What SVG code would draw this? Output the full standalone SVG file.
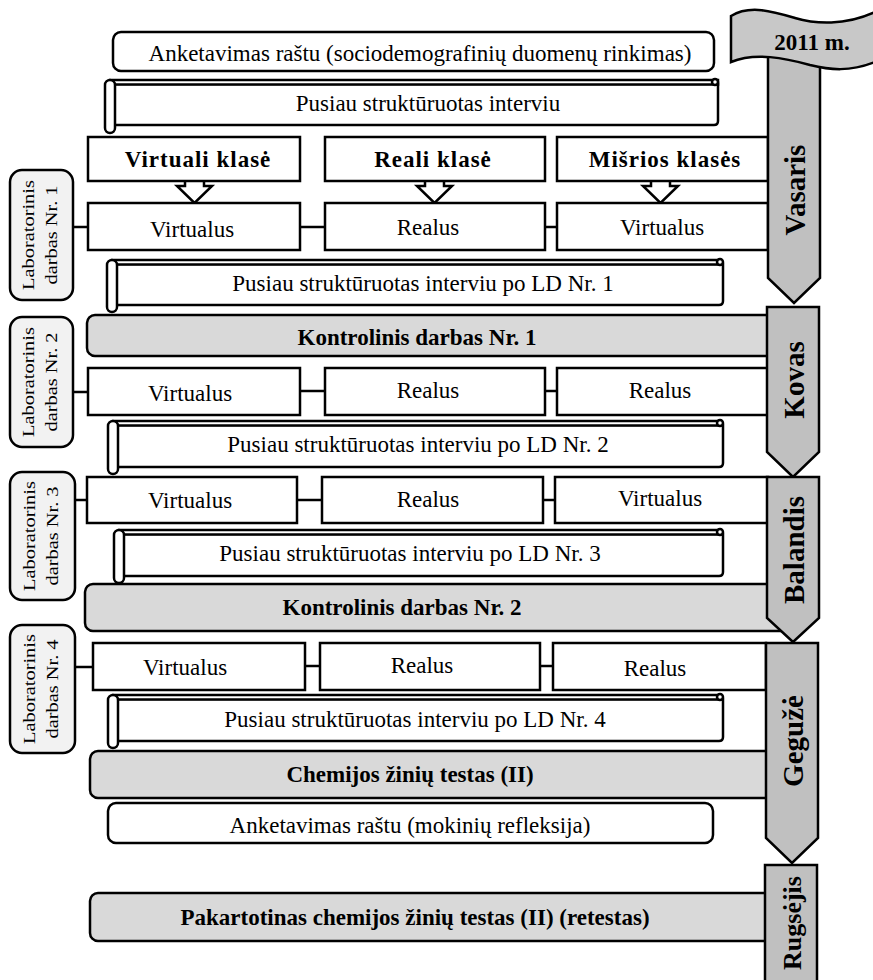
<svg xmlns="http://www.w3.org/2000/svg" width="873" height="980" viewBox="0 0 873 980">
<style>
.t{font-family:"Liberation Serif","Times New Roman",serif;font-size:23px;fill:#000;text-anchor:middle;dominant-baseline:central}
.b{font-weight:bold}
.hd{letter-spacing:1px}
.lt{font-size:17px}
.mt{font-size:29px;font-weight:bold}
.box{fill:#fff;stroke:#000;stroke-width:2.5}
.grey{fill:#d9d9d9;stroke:#000;stroke-width:2.5}
.lab{fill:#f2f2f2;stroke:#000;stroke-width:2.5}
.mon{fill:#c0c0c0;stroke:#000;stroke-width:2.5;stroke-linejoin:miter}
.ban{fill:#c8c8c8;stroke:#000;stroke-width:2.5}
.ln{stroke:#000;stroke-width:2.5;fill:none}
.arr{fill:#fff;stroke:#000;stroke-width:2.5}
</style>
<rect width="873" height="980" fill="#fff"/>

<!-- connectors -->
<g id="connectors">
<line class="ln" x1="300" y1="227" x2="325" y2="227"/>
<line class="ln" x1="545" y1="227" x2="557" y2="227"/>
<line class="ln" x1="73" y1="227" x2="88" y2="227"/>
<line class="ln" x1="300" y1="391" x2="325" y2="391"/>
<line class="ln" x1="545" y1="391" x2="557" y2="391"/>
<line class="ln" x1="73" y1="392" x2="88" y2="392"/>
<line class="ln" x1="297" y1="500" x2="322" y2="500"/>
<line class="ln" x1="543" y1="500" x2="555" y2="500"/>
<line class="ln" x1="75" y1="500" x2="87" y2="500"/>
<line class="ln" x1="305" y1="666" x2="320" y2="666"/>
<line class="ln" x1="540" y1="666" x2="553" y2="666"/>
<line class="ln" x1="75" y1="667" x2="93" y2="667"/>
<path class="arr" d="M185,181 V186 H177 L194.5,203 L212,186 H204 V181"/>
<path class="arr" d="M425,181 V186 H417 L434.5,203 L452,186 H444 V181"/>
<path class="arr" d="M651,181 V186 H643 L660.5,203 L678,186 H670 V181"/>
</g>

<!-- top survey -->
<g id="survey1"><rect class="box" x="113" y="32" width="601" height="39" rx="8"/><text class="t" x="420" y="53">Anketavimas raštu (sociodemografinių duomenų rinkimas)</text></g>

<!-- scroll 0 -->
<g id="interview0">
<path class="box" d="M113,84 H718 V121 Q718,125 714,125 H113 Z"/>
<rect class="box" x="110" y="80" width="608" height="4.5"/>
<circle class="box" cx="715" cy="82" r="3"/>
<rect class="box" x="105" y="80" width="10" height="53" rx="5"/>
<text class="t" x="428" y="103">Pusiau struktūruotas interviu</text>
</g>

<!-- headers -->
<g id="h-virtual"><rect class="box" x="88" y="137" width="212" height="44"/><text class="t b hd" x="198" y="159">Virtuali klasė</text></g>
<g id="h-real"><rect class="box" x="325" y="137" width="220" height="44"/><text class="t b hd" x="433" y="159">Reali klasė</text></g>
<g id="h-mixed"><rect class="box" x="557" y="137" width="211" height="44"/><text class="t b hd" x="665" y="159">Mišrios klasės</text></g>

<!-- row 1 -->
<g id="lab1"><rect class="lab" x="10" y="170" width="63" height="130" rx="12"/><text class="t lt" transform="translate(28,235) rotate(-90) scale(1.2,1)">Laboratorinis</text><text class="t lt" transform="translate(51,235) rotate(-90) scale(1.2,1)">darbas Nr. 1</text></g>
<g id="r1a"><rect class="box" x="88" y="203" width="212" height="47"/><text class="t" x="192" y="229">Virtualus</text></g>
<g id="r1b"><rect class="box" x="325" y="203" width="220" height="47"/><text class="t" x="428" y="227">Realus</text></g>
<g id="r1c"><rect class="box" x="557" y="203" width="211" height="47"/><text class="t" x="662" y="227">Virtualus</text></g>

<g id="interview1">
<path class="box" d="M115,264 H723 V301 Q723,305 719,305 H115 Z"/>
<rect class="box" x="112" y="260" width="608" height="4.5"/>
<circle class="box" cx="720" cy="262" r="3"/>
<rect class="box" x="107" y="260" width="10" height="52" rx="5"/>
<text class="t" x="423" y="283">Pusiau struktūruotas interviu po LD Nr. 1</text>
</g>

<g id="kd1"><rect class="grey" x="87" y="315" width="703" height="41" rx="8"/><text class="t b" x="417" y="337">Kontrolinis darbas Nr. 1</text></g>

<!-- row 2 -->
<g id="lab2"><rect class="lab" x="10" y="317" width="63" height="130" rx="12"/><text class="t lt" transform="translate(28,382) rotate(-90) scale(1.2,1)">Laboratorinis</text><text class="t lt" transform="translate(51,382) rotate(-90) scale(1.2,1)">darbas Nr. 2</text></g>
<g id="r2a"><rect class="box" x="88" y="368" width="212" height="47"/><text class="t" x="190" y="393">Virtualus</text></g>
<g id="r2b"><rect class="box" x="325" y="368" width="220" height="47"/><text class="t" x="428" y="390">Realus</text></g>
<g id="r2c"><rect class="box" x="557" y="368" width="211" height="47"/><text class="t" x="660" y="390">Realus</text></g>

<g id="interview2">
<path class="box" d="M116,425 H723 V463 Q723,467 719,467 H116 Z"/>
<rect class="box" x="113" y="421" width="607" height="4.5"/>
<circle class="box" cx="720" cy="423" r="3"/>
<rect class="box" x="108" y="421" width="10" height="53" rx="5"/>
<text class="t" x="418" y="444">Pusiau struktūruotas interviu po LD Nr. 2</text>
</g>

<!-- row 3 -->
<g id="lab3"><rect class="lab" x="10" y="472" width="65" height="128" rx="12"/><text class="t lt" transform="translate(29,536) rotate(-90) scale(1.2,1)">Laboratorinis</text><text class="t lt" transform="translate(52,536) rotate(-90) scale(1.2,1)">darbas Nr. 3</text></g>
<g id="r3a"><rect class="box" x="87" y="477" width="210" height="46"/><text class="t" x="190" y="500">Virtualus</text></g>
<g id="r3b"><rect class="box" x="322" y="477" width="221" height="46"/><text class="t" x="428" y="499">Realus</text></g>
<g id="r3c"><rect class="box" x="555" y="477" width="213" height="46"/><text class="t" x="660" y="498">Virtualus</text></g>

<g id="interview3">
<path class="box" d="M122,534 H723 V572 Q723,576 719,576 H122 Z"/>
<rect class="box" x="119" y="530" width="601" height="4.5"/>
<circle class="box" cx="720" cy="532" r="3"/>
<rect class="box" x="114" y="530" width="10" height="53" rx="5"/>
<text class="t" x="410" y="553">Pusiau struktūruotas interviu po LD Nr. 3</text>
</g>

<g id="kd2"><rect class="grey" x="85" y="584" width="705" height="47" rx="8"/><text class="t b" x="402" y="607">Kontrolinis darbas Nr. 2</text></g>

<!-- row 4 -->
<g id="lab4"><rect class="lab" x="10" y="625" width="65" height="128" rx="12"/><text class="t lt" transform="translate(29,689) rotate(-90) scale(1.2,1)">Laboratorinis</text><text class="t lt" transform="translate(52,689) rotate(-90) scale(1.2,1)">darbas Nr. 4</text></g>
<g id="r4a"><rect class="box" x="93" y="643" width="212" height="47"/><text class="t" x="185" y="667">Virtualus</text></g>
<g id="r4b"><rect class="box" x="320" y="643" width="220" height="47"/><text class="t" x="422" y="665">Realus</text></g>
<g id="r4c"><rect class="box" x="553" y="643" width="213" height="47"/><text class="t" x="655" y="668">Realus</text></g>

<g id="interview4">
<path class="box" d="M116,699 H723 V737 Q723,741 719,741 H116 Z"/>
<rect class="box" x="113" y="695" width="607" height="4.5"/>
<circle class="box" cx="720" cy="697" r="3"/>
<rect class="box" x="108" y="695" width="10" height="53" rx="5"/>
<text class="t" x="415" y="719">Pusiau struktūruotas interviu po LD Nr. 4</text>
</g>

<g id="chem"><rect class="grey" x="90" y="751" width="700" height="47" rx="8"/><text class="t b" x="410" y="774">Chemijos žinių testas (II)</text></g>

<g id="survey2"><rect class="box" x="108" y="803" width="605" height="40" rx="8"/><text class="t" x="410" y="825">Anketavimas raštu (mokinių refleksija)</text></g>

<g id="retest"><rect class="grey" x="90" y="893" width="690" height="48" rx="8"/><text class="t b" x="415" y="917">Pakartotinas chemijos žinių testas (II) (retestas)</text></g>

<!-- month arrows (on top) -->
<g id="vasaris"><path class="mon" d="M768,55 H820 V278 L794,303 L768,278 Z"/><text class="t mt" transform="translate(795,190) rotate(-90)">Vasaris</text></g>
<g id="kovas"><path class="mon" d="M767,307 H819 V452 L793,477 L767,452 Z"/><text class="t mt" transform="translate(794,380) rotate(-90)">Kovas</text></g>
<g id="balandis"><path class="mon" d="M767,477 H819 V618 L793,642 L767,618 Z"/><text class="t mt" transform="translate(794,550) rotate(-90)">Balandis</text></g>
<g id="geguze"><path class="mon" d="M766,643 H818 V838 L792,863 L766,838 Z"/><text class="t mt" transform="translate(793,741) rotate(-90)">Gegužė</text></g>
<g id="rugsejis"><path class="mon" d="M765,865 H817 V990 H765 Z"/><text class="t mt" style="font-size:26px" transform="translate(792,923) rotate(-90)">Rugsėjis</text></g>
<g id="banner"><path class="ban" d="M731,16 C750,4 775,12 795,18 C815,24 845,26 875,12 L875,62 C850,72 830,70 810,65 C785,58 755,52 731,62 Z"/><text class="t b" x="812" y="42">2011 m.</text></g>
</svg>
